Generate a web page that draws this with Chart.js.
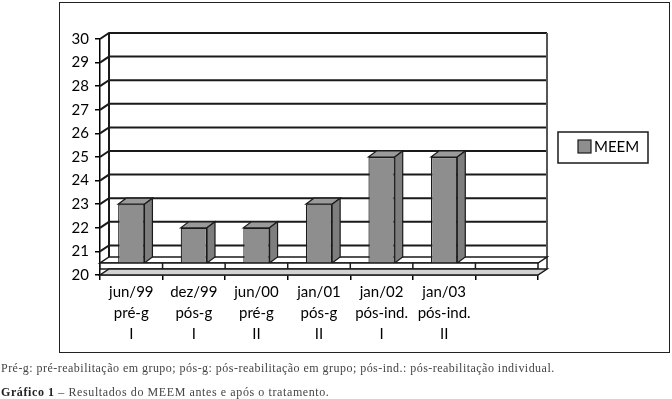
<!DOCTYPE html>
<html>
<head>
<meta charset="utf-8">
<script src="https://cdn.jsdelivr.net/npm/chart.js@4.4.0/dist/chart.umd.min.js"></script>
<style>
  body { margin: 0; background: #fff; width: 672px; height: 399px; overflow: hidden; position: relative; }
  #moldura { position: absolute; left: 59px; top: 2px; width: 609px; height: 349px; border: 1px solid #222; }
  #grafico { position: absolute; left: 0; top: 0; }
  .nota { position: absolute; left: 1px; font-family: "Liberation Serif", serif; font-size: 12px; letter-spacing: 0.47px; color: #444; white-space: nowrap; }
</style>
</head>
<body>
<div id="moldura"></div>
<canvas id="grafico" width="672" height="399"></canvas>
<div class="nota" style="top:361px">Pré-g: pré-reabilitação em grupo; pós-g: pós-reabilitação em grupo; pós-ind.: pós-reabilitação individual.</div>
<div class="nota" style="top:385px; letter-spacing:0.6px"><b style="color:#222">Gráfico 1</b> – Resultados do MEEM antes e após o tratamento.</div>
<script>
// dados
const categorias = [
  ["jun/99", "pré-g", "I"],
  ["dez/99", "pós-g", "I"],
  ["jun/00", "pré-g", "II"],
  ["jan/01", "pós-g", "II"],
  ["jan/02", "pós-ind.", "I"],
  ["jan/03", "pós-ind.", "II"],
  ""
];
const meem = [23, 22, 22, 23, 25, 25, null];
const nomeSerie = "MEEM";
const eixoMin = 20;
const eixoMax = 30;

// profundidade do efeito 3D
const DX = 9, DY = -6;
const BX = 8, BY = -6;
const LAJE = 12;

function poligono(ctx, pts, fill, stroke, lw) {
  ctx.beginPath();
  ctx.moveTo(pts[0][0], pts[0][1]);
  for (let i = 1; i < pts.length; i++) ctx.lineTo(pts[i][0], pts[i][1]);
  ctx.closePath();
  if (fill) { ctx.fillStyle = fill; ctx.fill(); }
  if (stroke) { ctx.strokeStyle = stroke; ctx.lineWidth = lw || 1; ctx.stroke(); }
}

const efeito3d = {
  id: "efeito3d",
  beforeDatasetsDraw(chart) {
    const { ctx, chartArea: a, scales: { y } } = chart;
    ctx.save();
    // linhas de grade na parede lateral e no fundo
    ctx.lineWidth = 2;
    ctx.strokeStyle = "#1a1a1a";
    for (let v = eixoMin + 1; v <= eixoMax; v++) {
      const py = y.getPixelForValue(v);
      ctx.beginPath();
      ctx.moveTo(a.left, py);
      ctx.lineTo(a.left + DX, py + DY);
      ctx.lineTo(a.right + DX, py + DY);
      ctx.stroke();
    }
    ctx.beginPath();
    ctx.moveTo(a.left + DX, a.top + DY);
    ctx.lineTo(a.left + DX, a.bottom + DY);
    ctx.stroke();
    ctx.strokeStyle = "#555";
    ctx.beginPath();
    ctx.moveTo(a.right + DX, a.top + DY);
    ctx.lineTo(a.right + DX, a.bottom + DY);
    ctx.stroke();
    // topo da base
    const b = a.bottom - LAJE;
    poligono(ctx, [[a.left, b], [a.right, b], [a.right + DX, b + DY], [a.left + DX, b + DY]], "#fff", "#1a1a1a", 1.5);
    ctx.restore();
  },
  afterDatasetsDraw(chart) {
    const { ctx, chartArea: a } = chart;
    ctx.save();
    const fundo = a.bottom - LAJE;
    // faces de cima e lateral das colunas
    chart.getDatasetMeta(0).data.forEach((bar, i) => {
      if (meem[i] == null) return;
      const p = bar.getProps(["x", "y", "width"], true);
      const x1 = p.x - p.width / 2, x2 = p.x + p.width / 2;
      poligono(ctx, [[x1, p.y], [x2, p.y], [x2 + BX, p.y + BY], [x1 + BX, p.y + BY]], "#9a9a9a", "#1a1a1a", 1.2);
      poligono(ctx, [[x2, p.y], [x2 + BX, p.y + BY], [x2 + BX, fundo + BY], [x2, fundo]], "#7e7e7e", "#1a1a1a", 1.2);
    });
    // frente da base com divisões de categoria
    poligono(ctx, [[a.left, fundo], [a.right, fundo], [a.right, a.bottom + DY], [a.left, a.bottom + DY]], "#fff", "#1a1a1a", 1.5);
    ctx.strokeStyle = "#1a1a1a";
    ctx.lineWidth = 1.5;
    const passo = (a.right - a.left) / categorias.length;
    for (let k = 1; k < categorias.length; k++) {
      const px = a.left + passo * k;
      ctx.beginPath();
      ctx.moveTo(px, fundo);
      ctx.lineTo(px, a.bottom + DY);
      ctx.stroke();
    }
    // piso cinza
    poligono(ctx, [[a.left, a.bottom], [a.right, a.bottom], [a.right + DX, a.bottom + DY], [a.left + DX, a.bottom + DY]], "#d2d2d2", "#1a1a1a", 1.5);
    ctx.restore();
  },
  afterDraw(chart) {
    // legenda
    const ctx = chart.ctx;
    ctx.save();
    ctx.strokeStyle = "#1a1a1a";
    ctx.lineWidth = 1.5;
    ctx.fillStyle = "#fff";
    ctx.fillRect(558, 132, 90, 31);
    ctx.strokeRect(558, 132, 90, 31);
    ctx.fillStyle = "#8e8e8e";
    ctx.fillRect(578, 140, 13, 13);
    ctx.lineWidth = 1.2;
    ctx.strokeRect(578, 140, 13, 13);
    ctx.fillStyle = "#000";
    ctx.font = "15px Lato";
    ctx.textBaseline = "middle";
    ctx.fillText(chart.data.datasets[0].label, 594, 147.5);
    ctx.restore();
  }
};

new Chart(document.getElementById("grafico"), {
  type: "bar",
  data: {
    labels: categorias,
    datasets: [{
      label: nomeSerie,
      data: meem,
      backgroundColor: "#8e8e8e",
      borderColor: "#1a1a1a",
      borderWidth: 1.2,
      barPercentage: 0.42,
      categoryPercentage: 1
    }]
  },
  options: {
    responsive: false,
    animation: false,
    devicePixelRatio: 1,
    layout: { padding: { left: 59, top: 39, right: 134, bottom: 47 } },
    plugins: { legend: { display: false }, tooltip: { enabled: false } },
    scales: {
      x: {
        ticks: { color: "#000", font: { family: "Lato", size: 15, lineHeight: 1.4 }, padding: 2, autoSkip: false, maxRotation: 0 },
        grid: { drawOnChartArea: false, tickLength: 5, color: "#000", lineWidth: 1.5 },
        border: { color: "#000", width: 1.5 },
        afterFit(s) { s.height = 77; }
      },
      y: {
        min: eixoMin,
        max: eixoMax,
        ticks: { stepSize: 1, color: "#000", font: { family: "Lato", size: 15 }, padding: 6 },
        grid: { drawOnChartArea: false, tickLength: 5, color: "#000", lineWidth: 1.5 },
        border: { color: "#000", width: 1.5 },
        afterFit(s) { s.width = 41; }
      }
    }
  },
  plugins: [efeito3d]
});
</script>
</body>
</html>
